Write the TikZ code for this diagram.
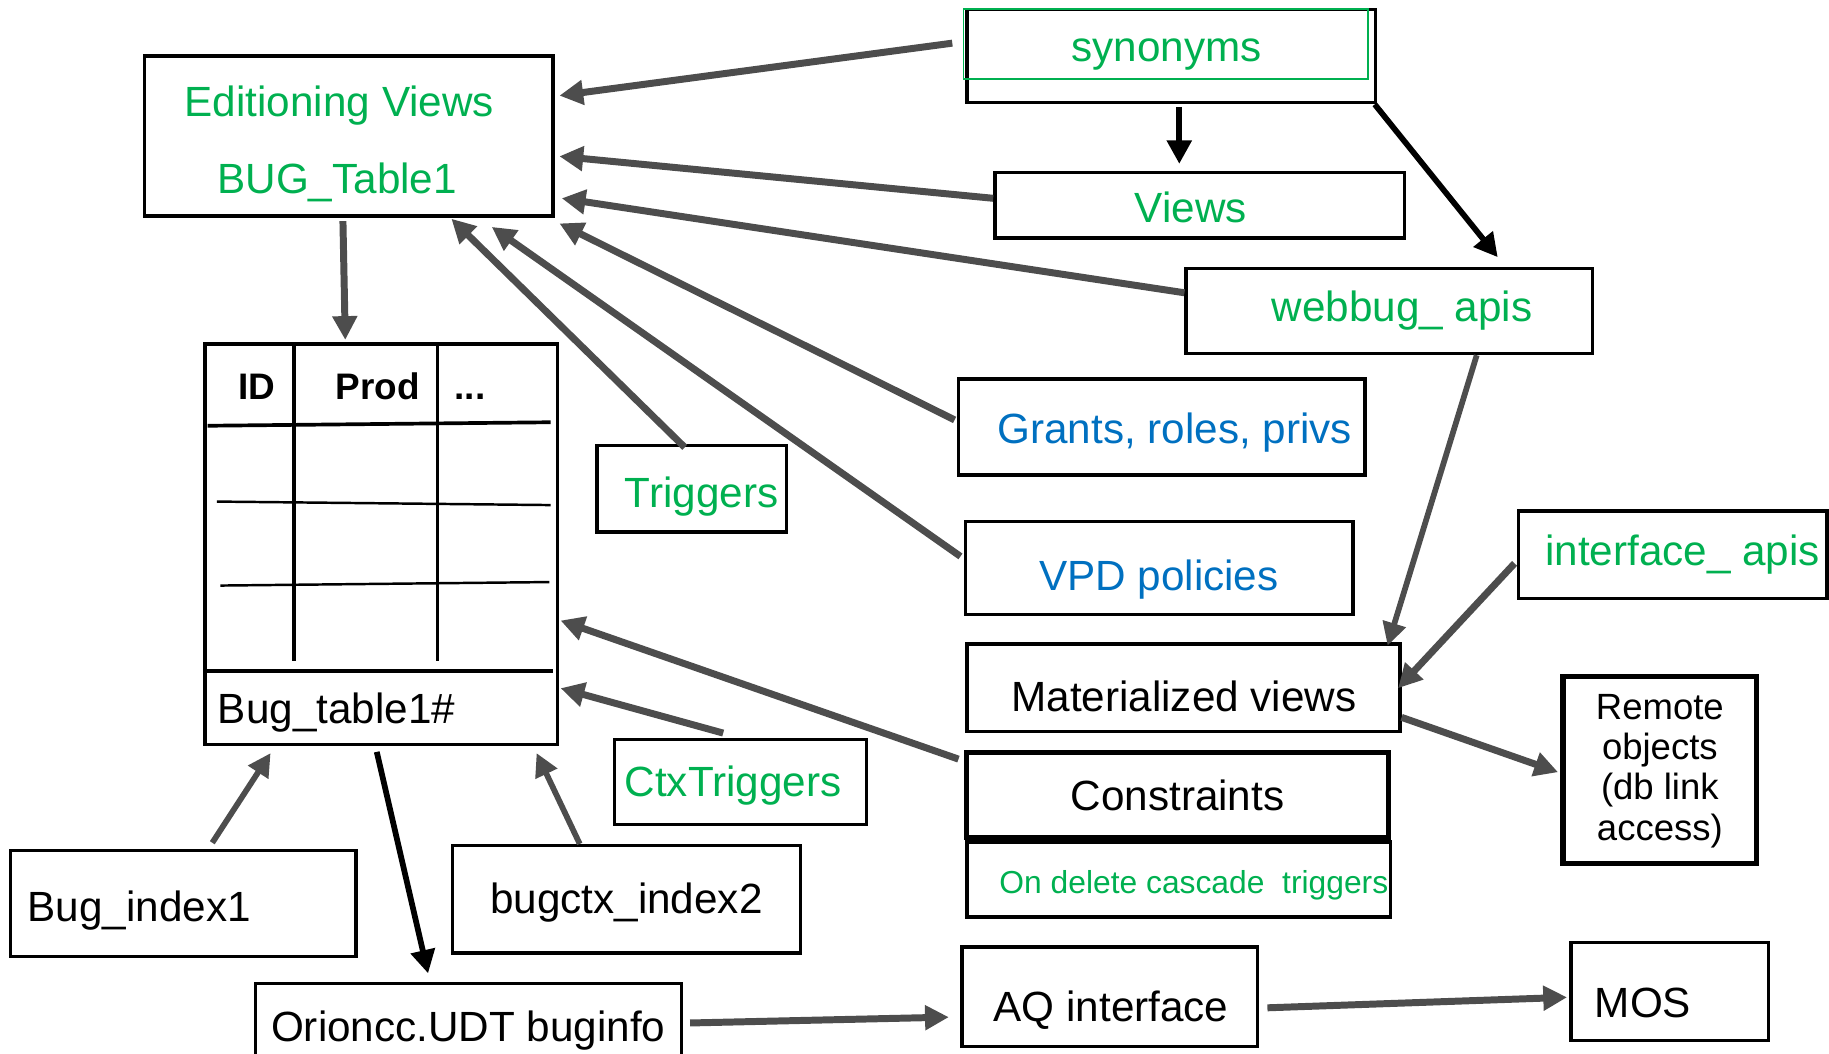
\documentclass[tikz,border=0pt]{standalone}
\usepackage{fontspec}
\setmainfont{Liberation Sans}
\usetikzlibrary{arrows.meta}
\definecolor{tgreen}{HTML}{00B050}
\definecolor{tblue}{HTML}{0070C0}
\definecolor{agray}{HTML}{4D4D4D}
\begin{document}
\begin{tikzpicture}[x=0.01cm,y=-0.01cm,
  box/.style={draw=black,line width=0.85pt,inner sep=0pt,rectangle},
  thickbox/.style={box,line width=1.25pt},
  t/.style={inner sep=0pt,text height=7.4pt,text depth=0pt,font=\fontsize{10.3pt}{12pt}\selectfont},
  tsmall/.style={inner sep=0pt,text height=5.55pt,text depth=0pt,font=\fontsize{7.75pt}{9pt}\selectfont},
  tremote/.style={inner sep=0pt,text height=6.4pt,text depth=0pt,font=\fontsize{8.9pt}{10pt}\selectfont},
  thead/.style={inner sep=0pt,anchor=base,font=\fontsize{9pt}{10pt}\selectfont\bfseries},
  garrow/.style={draw=agray,line width=1.7pt,-{Triangle[length=5.8pt,width=5.8pt]}},
  gthin/.style={draw=agray,line width=1.4pt,-{Triangle[length=5.6pt,width=5.6pt]}},
  barrow/.style={draw=black,line width=1.4pt,-{Triangle[length=5.7pt,width=5.8pt]}}
]
\useasboundingbox (0,0) rectangle (1568,903);

% boxes
\node[box,minimum width=3.50cm,minimum height=1.37cm] (ed) at (299,116.5) {};
\node[box,minimum width=3.50cm,minimum height=0.80cm] (syn) at (1004,48) {};
\draw[tgreen,line width=0.45pt] (826,8) rectangle (1173,68);
\node[box,minimum width=3.51cm,minimum height=0.56cm] (views) at (1028.5,176) {};
\node[box,minimum width=3.48cm,minimum height=0.73cm] (web) at (1191,266.5) {};
\node[box,minimum width=3.48cm,minimum height=0.82cm] (grants) at (996,366) {};
\node[box,minimum width=1.62cm,minimum height=0.74cm] (trig) at (593,419) {};
\node[box,minimum width=3.32cm,minimum height=0.80cm] (vpd) at (994,487) {};
\node[box,minimum width=2.64cm,minimum height=0.75cm] (iface) at (1434,475.5) {};
\node[box,minimum width=3.71cm,minimum height=0.75cm] (mat) at (1014.5,589.5) {};
\node[thickbox,minimum width=1.66cm,minimum height=1.60cm] (remote) at (1423,660) {};
\node[thickbox,minimum width=3.61cm,minimum height=0.73cm] (cons) at (1009.5,681.5) {};
\node[box,minimum width=3.63cm,minimum height=0.64cm] (odc) at (1010.5,754) {};
\node[box,minimum width=2.53cm,minimum height=0.85cm] (aq) at (951.5,854.5) {};
\node[box,minimum width=1.69cm,minimum height=0.84cm] (mos) at (1431.5,850) {};
\node[box,minimum width=3.02cm,minimum height=3.43cm] (table) at (327,466.5) {};
\node[box,minimum width=2.96cm,minimum height=0.91cm] (bi1) at (157,774.5) {};
\node[box,minimum width=2.98cm,minimum height=0.92cm] (bi2) at (537,771) {};
\node[box,minimum width=2.16cm,minimum height=0.73cm] (ctx) at (635,670.5) {};
\node[box,minimum width=3.65cm,minimum height=0.72cm] (ori) at (401.5,879) {};

% table grid
\draw[line width=0.9pt] (178,365) -- (472,362);
\draw[line width=0.6pt] (186,430) -- (472,433);
\draw[line width=0.6pt] (189,502) -- (471,499);
\draw[line width=1pt] (174,575) -- (474,575);
\draw[line width=0.85pt] (252,295) -- (252,567);
\draw[line width=0.85pt] (375,295) -- (375,567);

% texts
\node[t,text=tgreen] (edt1) at (291,87) {Editioning Views};
\node[t,text=tgreen] (edt2) at (289,153) {BUG\_Table1};
\node[t,text=tgreen] (synt) at (1000,40) {synonyms};
\node[t,text=tgreen] (viewst) at (1021,178) {Views};
\node[t,text=tgreen] (webt) at (1202,263) {webbug\_ apis};
\node[t,text=tblue] (grantst) at (1007,367) {Grants, roles, privs};
\node[t,text=tgreen] (trigt) at (601.5,422) {Triggers};
\node[t,text=tblue] (vpdt) at (993.5,493) {VPD policies};
\node[t,text=tgreen] (ifacet) at (1442.5,472) {interface\_ apis};
\node[t] (matt) at (1015,597) {Materialized views};
\node[tremote] (remt1) at (1423,606) {Remote};
\node[tremote] (remt2) at (1423,640) {objects};
\node[tremote] (remt3) at (1423,674) {(db link};
\node[tremote] (remt4) at (1423,709) {access)};
\node[t] (const) at (1009.5,682) {Constraints};
\node[tsmall,text=tgreen] (odct) at (1023.5,756) {On delete cascade\ \ triggers};
\node[t] (aqt) at (952.5,863) {AQ interface};
\node[t] (most) at (1408.5,859) {MOS};
\node[t] (tablet) at (288.5,607) {Bug\_table1\#};
\node[thead] (hid) at (220,342.5) {ID};
\node[thead] (hprod) at (324,342.5) {Prod};
\node[thead] (hdots) at (403,342.5) {...};
\node[t] (bi1t) at (119.5,777) {Bug\_index1};
\node[t] (bi2t) at (537,770) {bugctx\_index2};
\node[t,text=tgreen] (ctxt) at (628.5,670) {CtxTriggers};
\node[t] (orit) at (401.5,880) {Orioncc.UDT buginfo};

% connectors
\draw[garrow] ([shift={(-11,-11)}]syn.west) -- ([shift={(4,-34.5)}]ed.east);
\draw[garrow] ([shift={(0,-6)}]views.west) -- ([shift={(4,17.5)}]ed.east);
\draw[garrow] ([shift={(0,-15.5)}]web.west) -- ([shift={(6,53.5)}]ed.east);
\draw[garrow] ([shift={(-2,-6)}]grants.west) -- ([shift={(4,5)}]ed.south east);
\draw[garrow] ([shift={(-3,-10)}]vpd.west) -- ([shift={(-54,8)}]ed.south east);
\draw[garrow] ([shift={(-6,3)}]trig.north) -- ([shift={(88,1)}]ed.south);
\draw[garrow] ([shift={(-5,3)}]ed.south) -- ([shift={(-31,-2)}]table.north);
\draw[barrow] ([shift={(7,2)}]syn.south) -- ([shift={(-17.5,-6)}]views.north);
\draw[barrow] ([shift={(-2,0)}]syn.south east) -- ([shift={(93,-8)}]web.north);
\draw[gthin] ([shift={(75,0)}]web.south) -- ([shift={(-12,3)}]mat.north east);
\draw[garrow] ([shift={(-2,7.5)}]iface.west) -- ([shift={(-3,0.5)}]mat.east);
\draw[garrow] ([shift={(0,25.5)}]mat.east) -- ([shift={(-2,2)}]remote.west);
\draw[garrow] ([shift={(-5,8)}]cons.north west) -- ([shift={(1,65.5)}]table.east);
\draw[garrow] ([shift={(-15,-4)}]ctx.north) -- ([shift={(1,123.5)}]table.east);
\draw[gthin] ([shift={(25,-5)}]bi1.north) -- ([shift={(-95,6)}]table.south);
\draw[gthin] ([shift={(-40,0)}]bi2.north) -- ([shift={(133,6)}]table.south);
\draw[barrow] ([shift={(-4,5)}]table.south) -- ([shift={(-34.5,-7)}]ori.north);
\draw[garrow] ([shift={(6,-2)}]ori.east) -- ([shift={(-10,17.5)}]aq.west);
\draw[garrow] ([shift={(7,9.5)}]aq.east) -- ([shift={(-2,5)}]mos.west);
\end{tikzpicture}
\end{document}
